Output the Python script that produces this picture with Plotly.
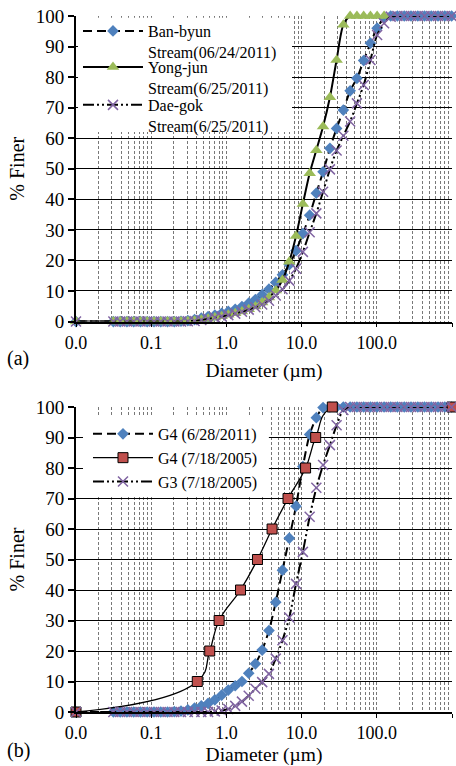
import plotly.graph_objects as go

# Particle diameter classes (µm) shared by the laser-diffraction curves
diam_um = [0.01, 0.0314, 0.0387, 0.0476, 0.0585, 0.072, 0.0885, 0.109, 0.134, 0.165,
           0.203, 0.249, 0.307, 0.377, 0.464, 0.571, 0.702, 0.864, 1.06, 1.31,
           1.61, 1.98, 2.43, 2.99, 3.68, 4.53, 5.57, 6.86, 8.43, 10.4,
           12.8, 15.7, 19.3, 23.8, 29.2, 35.9, 44.2, 54.4, 66.9, 82.3,
           101, 125, 153, 188, 232, 285, 351, 431, 530, 652, 802, 987]

# Panel (a): cumulative % finer
ban_byun = [0] * 11 + [0.1, 0.3, 0.6, 1.1, 1.6, 2.1, 2.7, 3.3, 4.0, 4.9,
                       6.0, 7.2, 8.8, 10.6, 12.8, 15.3, 18.6, 23.2, 28.8, 34.8,
                       42.0, 49.0, 56.7, 63.2, 69.2, 75.5, 79.6, 85.4, 91.1, 96.0,
                       99.3] + [100] * 10
yong_jun = [0] * 12 + [0.1, 0.3, 0.6, 0.9, 1.3, 1.7, 2.2, 2.7, 3.3, 4.0,
                       4.9, 6.2, 7.9, 10.2, 13.6, 19.6, 28.0, 38.5, 48.5, 56.1,
                       63.8, 73.4, 85.6, 97.1] + [100] * 6
dae_gok = [0] * 12 + [0.1, 0.2, 0.5, 0.9, 1.3, 1.7, 2.1, 2.6, 3.2, 3.9,
                      4.7, 5.6, 6.8, 8.5, 10.6, 13.4, 17.3, 22.8, 29.2, 35.4,
                      42.5, 49.8, 56.0, 60.8, 65.5, 71.4, 77.4, 85.6, 93.8, 97.6,
                      99.8] + [100] * 9

# Panel (b): cumulative % finer
g4_2011 = [0] * 10 + [0.1, 0.3, 0.7, 1.3, 2.0, 2.8, 4.0, 5.5, 7.2, 8.6,
                      10.0, 12.7, 15.8, 20.3, 26.7, 36.0, 46.5, 57.0, 67.5, 80.5,
                      91.0, 96.5, 99.8] + [100] * 19
g3_2005 = [0] * 16 + [0.2, 0.5, 1.0, 2.0, 3.4, 5.3, 7.6, 9.8, 12.5, 17.5,
                      23.5, 31.0, 42.0, 52.5, 64.0, 73.5, 81.0, 87.5, 94.0, 99.0] + [100] * 16
g4_2005_x = [0.01, 0.41, 0.60, 0.80, 1.54, 2.59, 4.05, 6.6, 11.3, 15.4, 25.6, 1000]
g4_2005_y = [0, 10, 20, 30, 40, 50, 60, 70, 80, 90, 100, 100]

x_tickvals = [0.01, 0.1, 1, 10, 100, 1000]
x_ticktext = ["0.0", "0.1", "1.0", "10.0", "100.0", ""]

SERIF = "Liberation Serif"
BLUE, GREEN, PURPLE, RED = "#4F81BD", "#9BBB59", "#8064A2", "#C0504D"
DASH = "9px,5px"
DASHDOTDOT = "11px,3px,2px,3px,2px,3px"

fig = go.Figure()

def add(x, y, name, axis, legend, dash, width, marker, smoothing=0.8):
    fig.add_trace(go.Scatter(
        x=x[:len(y)], y=y, name=name, mode="lines+markers",
        xaxis="x" + axis, yaxis="y" + axis, legend=legend,
        line=dict(color="black", width=width, dash=dash, shape="spline", smoothing=smoothing),
        marker=marker, cliponaxis=False,
    ))

add(diam_um, ban_byun, "Ban-byun<br>Stream(06/24/2011)", "", "legend", DASH, 2,
    dict(symbol="diamond", size=9, color=BLUE))
add(diam_um, yong_jun, "Yong-jun<br>Stream(6/25/2011)", "", "legend3", "solid", 2,
    dict(symbol="triangle-up", size=11, color=GREEN))
add(diam_um, dae_gok, "Dae-gok<br>Stream(6/25/2011)", "", "legend4", DASHDOTDOT, 2,
    dict(symbol="x-thin", size=10, line=dict(color=PURPLE, width=1.5), color=PURPLE))

add(diam_um, g4_2011, "G4 (6/28/2011)", "2", "legend2", DASH, 2,
    dict(symbol="diamond", size=9, color=BLUE))
add(g4_2005_x, g4_2005_y, "G4 (7/18/2005)", "2", "legend2", "solid", 1.3,
    dict(symbol="square", size=10, color=RED, line=dict(color="black", width=1)),
    smoothing=1.3)
add(diam_um, g3_2005, "G3 (7/18/2005)", "2", "legend2", DASHDOTDOT, 2,
    dict(symbol="x-thin", size=10, line=dict(color=PURPLE, width=1.5), color=PURPLE))

minor_vals = [m * 10 ** e for e in range(-2, 3) for m in range(2, 10)]
GRID_GREY = "#787878"
GRID_DASH = "3px,2px"

def xaxis_style(anchor):
    return dict(
        type="log", range=[-2, 3], anchor=anchor, domain=[0, 1], automargin=False,
        tickvals=x_tickvals, ticktext=x_ticktext,
        ticks="outside", ticklen=4, tickcolor="black", tickwidth=1,
        showline=True, linecolor="black", linewidth=1.5,
        showgrid=True, gridcolor=GRID_GREY, griddash=GRID_DASH, gridwidth=1,
        minor=dict(tickvals=minor_vals, showgrid=True, gridcolor=GRID_GREY,
                   griddash=GRID_DASH, gridwidth=1, ticks=""),
        tickfont=dict(family=SERIF, size=18, color="black"),
        title=dict(text="Diameter (µm)", font=dict(family=SERIF, size=19.5, color="black"),
                   standoff=11),
        zeroline=False,
    )

def yaxis_style(anchor, domain):
    return dict(
        range=[0, 100], dtick=10, anchor=anchor, domain=domain, automargin=False,
        ticks="outside", ticklen=6, tickcolor="black", tickwidth=1.5,
        showline=True, linecolor="black", linewidth=2,
        showgrid=True, gridcolor="black", gridwidth=1.3,
        tickfont=dict(family=SERIF, size=19, color="black"),
        title=dict(text="% Finer", font=dict(family=SERIF, size=20, color="black"),
                   standoff=6),
        zeroline=False,
    )

legend_common = dict(
    bgcolor="rgba(0,0,0,0)", borderwidth=0, xanchor="left", yanchor="top",
    font=dict(family=SERIF, size=16, color="black"),
    itemwidth=60, valign="top", tracegroupgap=0,
)

# white panels behind the legend entries hide the grid there
legend_panels = [
    dict(type="rect", xref="x domain", yref="y", x0=0.0053, x1=0.5745, y0=62.0, y1=99.4,
         fillcolor="white", line=dict(width=0), layer="above"),
    dict(type="rect", xref="x2 domain", yref="y2", x0=0.0186, x1=0.513, y0=70.6, y1=96.7,
         fillcolor="white", line=dict(width=0), layer="above"),
]

fig.update_layout(
    width=456, height=766,
    margin=dict(l=76, r=4, t=16, b=54),
    paper_bgcolor="white", plot_bgcolor="white",
    showlegend=True,
    xaxis=xaxis_style("y"),
    yaxis=yaxis_style("x", [0.561, 1.0]),
    xaxis2=xaxis_style("y2"),
    yaxis2=yaxis_style("x2", [0.0, 0.4382]),
    legend=dict(x=0.0053, y=1.0029, **legend_common),
    legend2=dict(x=0.0319, y=0.4239, **legend_common),
    legend3=dict(x=0.0053, y=0.9511, **legend_common),
    legend4=dict(x=0.0053, y=0.8966, **legend_common),
    shapes=legend_panels,
    annotations=[
        dict(text="(a)", xref="paper", yref="paper", x=-0.189, y=0.5086,
             xanchor="left", yanchor="middle", showarrow=False,
             font=dict(family=SERIF, size=20, color="black")),
        dict(text="(b)", xref="paper", yref="paper", x=-0.189, y=-0.0546,
             xanchor="left", yanchor="middle", showarrow=False,
             font=dict(family=SERIF, size=20, color="black")),
    ],
)

fig.write_html("out.html")
